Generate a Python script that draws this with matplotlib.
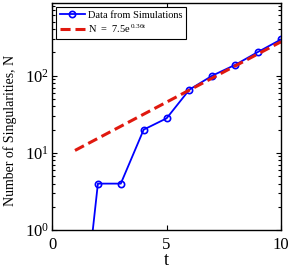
import numpy as np
import matplotlib
matplotlib.use("Agg")
import matplotlib.pyplot as plt
from matplotlib.ticker import LogLocator, NullFormatter

plt.rcParams['font.family'] = ['Liberation Serif', 'DejaVu Serif']
plt.rcParams['mathtext.fontset'] = 'custom'
plt.rcParams['mathtext.rm'] = 'Liberation Serif'
plt.rcParams['mathtext.it'] = 'Liberation Serif:italic'

# simulation data (t=1 falls below the axis)
t_sim = [1, 2, 3, 4, 5, 6, 7, 8, 9, 10]
n_sim = [0.008, 4, 4, 20, 28, 66, 100, 138, 203, 294]

# exponential fit N = a * exp(b t)
fit_a = 7.5
fit_b = 0.36
t_fit = np.linspace(1, 10, 50)
n_fit = fit_a * np.exp(fit_b * t_fit)

x_ticks = [0, 5, 10]
x_ticklabels = ['0', '5', '10']

fig = plt.figure(figsize=(2.91, 2.73), dpi=100)
ax = fig.add_axes([0.179, 0.157, 0.787, 0.832])

ax.plot(t_sim, n_sim, '-o', color='#0000ff', lw=1.3, ms=4.5, mfc='none', mew=1.2,
        label='Data from Simulations')
ax.plot(t_fit, n_fit, '--', color='#e0190f', lw=2.2, dashes=(3.3, 1.6),
        label=r'N  =  7.5e$^{\,\mathrm{0.36t}}$')

ax.set_yscale('log')
ax.set_xlim(0, 10)
ax.set_ylim(1, 870)
ax.set_xticks(x_ticks, labels=x_ticklabels)
ax.yaxis.set_major_locator(LogLocator(base=10, numticks=10))
ax.yaxis.set_minor_locator(LogLocator(base=10, subs=np.arange(2, 10), numticks=10))
ax.yaxis.set_minor_formatter(NullFormatter())

ax.tick_params(which='both', direction='in', top=True, right=True, labelsize=12, width=0.8)
ax.tick_params(which='major', length=3.5, pad=2)
ax.tick_params(axis='x', which='major', pad=5)
ax.tick_params(which='minor', length=2)
for s in ax.spines.values():
    s.set_linewidth(1.0)

ax.set_xlabel('t', fontsize=13, labelpad=-1)
ax.set_ylabel('Number of Singularities, N', fontsize=10)
ax.yaxis.set_label_coords(-0.155, 0.44)

leg = ax.legend(loc='upper left', fontsize=7.5, frameon=True, fancybox=False,
                edgecolor='black', framealpha=1, borderpad=0.35, handlelength=2.4,
                labelspacing=0.25, handletextpad=0.3, borderaxespad=0.4)
leg.get_frame().set_linewidth(0.8)

fig.savefig('out.png', dpi=100)
